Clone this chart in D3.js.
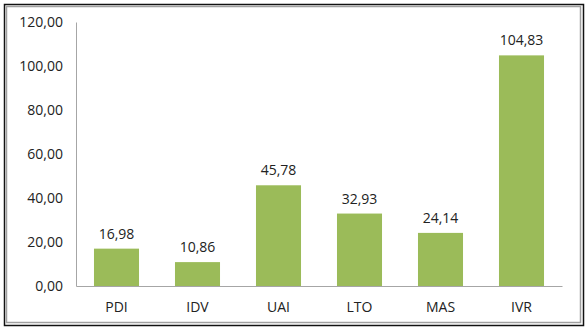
<!DOCTYPE html>
<html>
<head>
<meta charset="utf-8">
<script src="https://cdn.jsdelivr.net/npm/d3@7"></script>
<style>
  body { margin: 0; background: #fff; }
  svg { display: block; }
</style>
</head>
<body>
<div id="chart"></div>
<script>
const categories = ['PDI', 'IDV', 'UAI', 'LTO', 'MAS', 'IVR'];
const scores = [16.98, 10.86, 45.78, 32.93, 24.14, 104.83];
const yTicks = [0, 20, 40, 60, 80, 100, 120];

const width = 588;
const height = 330;
const margin = { top: 22, right: 26, bottom: 44, left: 76 };
const fontSize = '14px';

const fmt = v => d3.format('.2f')(v).replace('.', ',');

const svg = d3.select('#chart')
  .append('svg')
  .attr('width', width)
  .attr('height', height);

// frame: dark outer border, grey inner edge
svg.append('rect')
  .attr('x', 4.5).attr('y', 4.5)
  .attr('width', 579).attr('height', 321)
  .attr('fill', '#fff')
  .attr('stroke', '#111')
  .attr('stroke-width', 1.5);
svg.append('rect')
  .attr('x', 6.5).attr('y', 6.5)
  .attr('width', 574).attr('height', 316)
  .attr('fill', 'none')
  .attr('stroke', '#a0a0a0')
  .attr('stroke-width', 1.5);

const x = d3.scaleBand()
  .domain(categories)
  .range([margin.left, width - margin.right])
  .paddingInner(0.444)
  .paddingOuter(0.222);

const y = d3.scaleLinear()
  .domain([0, 120])
  .range([height - margin.bottom, margin.top]);

const g = svg.append('g')
  .style('font-family', '"Open Sans", sans-serif')
  .style('font-size', fontSize)
  .attr('fill', '#222');

// y axis
const yAxis = g.append('g')
  .attr('transform', `translate(${margin.left},0)`)
  .call(d3.axisLeft(y).tickValues(yTicks).tickFormat(fmt).tickSize(0).tickPadding(13));
yAxis.select('.domain').attr('stroke', '#a6a6a6');
yAxis.selectAll('text')
  .style('font-family', '"Open Sans", sans-serif')
  .style('font-size', fontSize)
  .attr('fill', '#222');

// bars
g.selectAll('.bar')
  .data(scores)
  .enter()
  .append('rect')
  .attr('class', 'bar')
  .attr('x', (d, i) => x(categories[i]))
  .attr('y', d => y(d))
  .attr('width', x.bandwidth())
  .attr('height', d => y(0) - y(d))
  .attr('fill', '#9bbb59');

// value labels
g.selectAll('.value')
  .data(scores)
  .enter()
  .append('text')
  .attr('class', 'value')
  .attr('x', (d, i) => x(categories[i]) + x.bandwidth() / 2)
  .attr('y', d => y(d) - 10)
  .attr('text-anchor', 'middle')
  .text(fmt);

// x axis
const xAxis = g.append('g')
  .attr('transform', `translate(0,${y(0)})`)
  .call(d3.axisBottom(x).tickSize(0).tickPadding(16));
xAxis.select('.domain').attr('stroke', '#a6a6a6');
xAxis.selectAll('text')
  .style('font-family', '"Open Sans", sans-serif')
  .style('font-size', fontSize)
  .attr('fill', '#222');
</script>
</body>
</html>
